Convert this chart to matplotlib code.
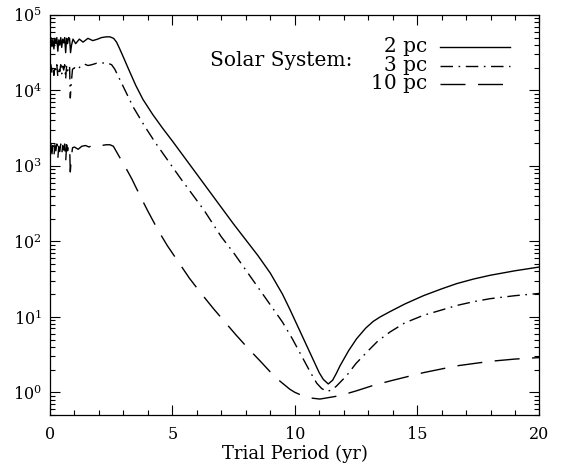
import matplotlib
matplotlib.use("Agg")
import matplotlib.pyplot as plt
from matplotlib.ticker import LogLocator, MultipleLocator, LogFormatterMathtext, NullFormatter

plt.rcParams['font.family'] = ['DejaVu Serif']
plt.rcParams['mathtext.fontset'] = 'dejavuserif'

# trial period (yr) and log10 of the curve values
x_2pc = [0.00, 0.04, 0.08, 0.12, 0.16, 0.20, 0.24, 0.28, 0.32, 0.36, 0.40, 0.44, 0.48, 0.52,
         0.56, 0.60, 0.64, 0.68, 0.72, 0.76, 0.80, 0.84, 0.88, 0.94, 1.05, 1.20, 1.35, 1.55,
         1.75, 1.95, 2.10, 2.30, 2.45, 2.60, 2.72, 2.85, 3.00, 3.20, 3.50, 3.80, 4.20, 4.60,
         5.00, 5.50, 6.00, 6.50, 7.00, 7.50, 8.00, 8.50, 9.00, 9.50, 9.80, 10.00, 10.50,
         10.80, 11.00, 11.17, 11.37, 11.55, 11.70, 11.85, 12.20, 12.53, 12.90, 13.21, 13.50,
         13.90, 14.50, 15.26, 16.00, 16.62, 17.30, 17.98, 19.00, 20.00]
log_2pc = [4.64, 4.70, 4.58, 4.68, 4.55, 4.69, 4.62, 4.70, 4.52, 4.67, 4.60, 4.70, 4.57, 4.68,
           4.63, 4.70, 4.50, 4.69, 4.62, 4.70, 4.69, 4.50, 4.60, 4.68, 4.62, 4.68, 4.64, 4.69,
           4.66, 4.68, 4.70, 4.71, 4.71, 4.69, 4.64, 4.55, 4.44, 4.29, 4.07, 3.88, 3.68, 3.50,
           3.33, 3.11, 2.89, 2.67, 2.45, 2.23, 2.02, 1.81, 1.58, 1.30, 1.10, 0.96, 0.61,
           0.40, 0.26, 0.17, 0.11, 0.16, 0.25, 0.35, 0.55, 0.71, 0.85, 0.94, 1.00,
           1.07, 1.17, 1.28, 1.37, 1.44, 1.50, 1.55, 1.61, 1.66]

x_3pc = [0.00, 0.04, 0.08, 0.12, 0.16, 0.20, 0.24, 0.28, 0.32, 0.36, 0.40, 0.44, 0.48, 0.52,
         0.56, 0.60, 0.64, 0.68, 0.72, 0.76, 0.80, 0.83, 0.87, 0.92, 1.00, 1.10, 1.25, 1.40,
         1.55, 1.70, 1.90, 2.10, 2.30, 2.52, 2.65, 2.80, 3.07, 3.40, 3.88, 4.30, 4.80, 5.30,
         5.80, 6.30, 7.00, 7.50, 8.00, 8.50, 9.00, 9.50, 9.90, 10.30, 10.63, 10.90, 11.10,
         11.31, 11.50, 11.70, 12.12, 12.50, 12.94, 13.40, 13.90, 14.50, 15.26, 16.00, 16.62,
         17.30, 17.98, 19.00, 20.00]
log_3pc = [4.28, 4.34, 4.22, 4.32, 4.20, 4.33, 4.26, 4.34, 4.18, 4.31, 4.25, 4.34, 4.22, 4.32,
           4.27, 4.34, 4.15, 4.33, 4.26, 4.31, 4.33, 3.90, 4.10, 4.28, 4.30, 4.27, 4.32, 4.35,
           4.33, 4.34, 4.36, 4.36, 4.37, 4.34, 4.28, 4.18, 4.00, 3.78, 3.52, 3.31, 3.08, 2.85,
           2.63, 2.41, 2.06, 1.85, 1.62, 1.39, 1.16, 0.93, 0.71, 0.47, 0.27, 0.12, 0.05,
           0.01, 0.03, 0.08, 0.22, 0.38, 0.53, 0.68, 0.80, 0.92, 1.02, 1.09, 1.15,
           1.20, 1.24, 1.28, 1.31]

x_10pc = [0.00, 0.04, 0.08, 0.12, 0.16, 0.20, 0.24, 0.28, 0.32, 0.36, 0.40, 0.44, 0.48, 0.52,
          0.56, 0.60, 0.64, 0.68, 0.72, 0.76, 0.80, 0.83, 0.87, 0.92, 1.00, 1.15, 1.30, 1.45,
          1.60, 1.75, 1.90, 2.10, 2.30, 2.45, 2.59, 2.80, 3.07, 3.34, 3.52, 3.75, 4.00, 4.43,
          4.80, 5.24, 5.70, 6.20, 6.70, 7.15, 7.60, 8.10, 8.60, 9.20, 9.80, 10.00, 10.49,
          11.03, 11.85, 12.53, 13.20, 13.90, 15.26, 16.62, 17.98, 19.00, 20.00]
log_10pc = [3.22, 3.29, 3.16, 3.27, 3.12, 3.28, 3.20, 3.29, 3.10, 3.26, 3.19, 3.29, 3.15, 3.27,
            3.21, 3.29, 3.05, 3.28, 3.20, 3.26, 3.28, 2.92, 3.10, 3.24, 3.25, 3.22, 3.26, 3.27,
            3.25, 3.28, 3.28, 3.27, 3.28, 3.28, 3.26, 3.14, 2.99, 2.83, 2.71, 2.56, 2.40, 2.14,
            1.94, 1.73, 1.51, 1.30, 1.10, 0.93, 0.76, 0.58, 0.41, 0.20, 0.04, 0.00, -0.07,
            -0.09, -0.045, 0.02, 0.09, 0.15, 0.26, 0.35, 0.41, 0.44, 0.46]

legend_labels = ['2 pc', '3 pc', '10 pc']

fig = plt.figure(figsize=(5.61, 4.72), dpi=100)
ax = fig.add_axes([0.0891, 0.1208, 0.8725, 0.8475])

lw = 1.0
dash_dot = (9, 4, 1.2, 4)
long_dash = (18, 9)
ax.plot(x_2pc, [10 ** v for v in log_2pc], color='black', lw=lw, ls='-')
ax.plot(x_3pc, [10 ** v for v in log_3pc], color='black', lw=lw, dashes=dash_dot)
ax.plot(x_10pc, [10 ** v for v in log_10pc], color='black', lw=lw, dashes=long_dash)

ax.set_yscale('log')
ax.set_xlim(0, 20)
ax.set_ylim(0.5, 1e5)

ax.xaxis.set_major_locator(MultipleLocator(5))
ax.xaxis.set_minor_locator(MultipleLocator(1))
ax.yaxis.set_major_locator(LogLocator(base=10, numticks=10))
ax.yaxis.set_minor_locator(LogLocator(base=10, subs=range(2, 10), numticks=20))
ax.yaxis.set_major_formatter(LogFormatterMathtext())
ax.yaxis.set_minor_formatter(NullFormatter())

ax.tick_params(which='both', direction='in', top=True, right=True, width=0.8, labelsize=11.5)
ax.tick_params(which='major', length=7)
ax.tick_params(which='minor', length=3.5)
ax.tick_params(axis='x', pad=8)
ax.tick_params(axis='y', pad=6)
for s in ax.spines.values():
    s.set_linewidth(0.9)

ax.set_xlabel('Trial Period (yr)', fontsize=13, labelpad=1)

# legend drawn IDL-style in axes coordinates
ax.text(0.619, 0.886, 'Solar System:', transform=ax.transAxes, fontsize=14.5,
        ha='right', va='center')
rows = [0.920, 0.873, 0.828]
styles = [dict(ls='-'), dict(dashes=dash_dot), dict(dashes=long_dash)]
for lab, yy, st in zip(legend_labels, rows, styles):
    ax.text(0.770, yy, lab, transform=ax.transAxes, fontsize=14.5, ha='right', va='center')
    ax.plot([0.797, 0.940], [yy, yy], transform=ax.transAxes, color='black', lw=lw, **st)

fig.savefig('out.png', dpi=100)
